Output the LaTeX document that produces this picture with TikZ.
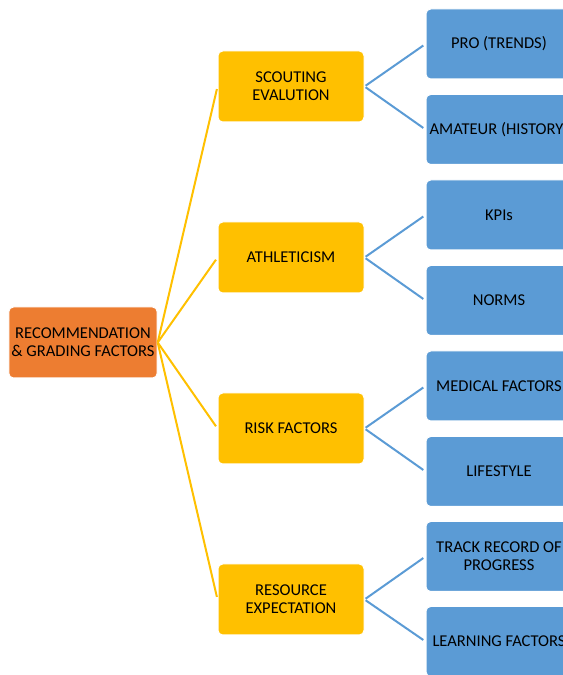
\documentclass[tikz,border=0pt]{standalone}
\usepackage{fontspec}
\setmainfont{Carlito}
\usepackage{tikz}
\definecolor{rootOrange}{HTML}{ED7D31}
\definecolor{catGold}{HTML}{FFC000}
\definecolor{leafBlue}{HTML}{5B9BD5}

\begin{document}
\begin{tikzpicture}[x=0.75pt, y=0.75pt,
  tbox/.style={rectangle, rounded corners=3.5pt, draw=white, line width=0.75pt,
    align=center, inner sep=2pt, minimum width=109.5pt, minimum height=53.25pt,
    font=\fontsize{12.4}{13.5}\selectfont, text=black},
  rootbox/.style={tbox, fill=rootOrange},
  catbox/.style={tbox, fill=catGold},
  leafbox/.style={tbox, fill=leafBlue, minimum height=52.5pt},
  catlink/.style={catGold, line width=1.5pt, shorten >=2pt},
  leaflink/.style={leafBlue, line width=1.5pt, shorten <=1pt, shorten >=2pt}]
  \useasboundingbox (0,0) rectangle (563,675);
  \clip (0,0) rectangle (563,675);
  % root
  \node[rootbox] (root) at (83, 332.5) {RECOMMENDATION\\\& GRADING FACTORS};
  % categories
  \node[catbox] (scout) at (291, 588.5) {SCOUTING\\EVALUTION};
  \node[catbox] (athl) at (291, 417.5) {ATHLETICISM};
  \node[catbox] (risk) at (291, 246.5) {RISK FACTORS};
  \node[catbox] (resource) at (291, 75.5) {RESOURCE\\EXPECTATION};
  % leaves
  \node[leafbox] (pro) at (499, 631) {PRO (TRENDS)};
  \node[leafbox] (amateur) at (499, 545.5) {AMATEUR (HISTORY)};
  \node[leafbox] (kpis) at (499, 460) {KPIs};
  \node[leafbox] (norms) at (499, 374.5) {NORMS};
  \node[leafbox] (medical) at (499, 289) {MEDICAL FACTORS};
  \node[leafbox] (lifestyle) at (499, 203.5) {LIFESTYLE};
  \node[leafbox] (track) at (499, 118.5) {TRACK RECORD OF\\PROGRESS};
  \node[leafbox] (learning) at (499, 33.5) {LEARNING FACTORS};
  % links
  \foreach \c in {scout, athl, risk, resource}
    \draw[catlink] (root.east) -- (\c.west);
  \foreach \c/\a/\b in {scout/pro/amateur, athl/kpis/norms,
      risk/medical/lifestyle, resource/track/learning} {
    \draw[leaflink] (\c.east) -- (\a.west);
    \draw[leaflink] (\c.east) -- (\b.west);
  }
\end{tikzpicture}
\end{document}
